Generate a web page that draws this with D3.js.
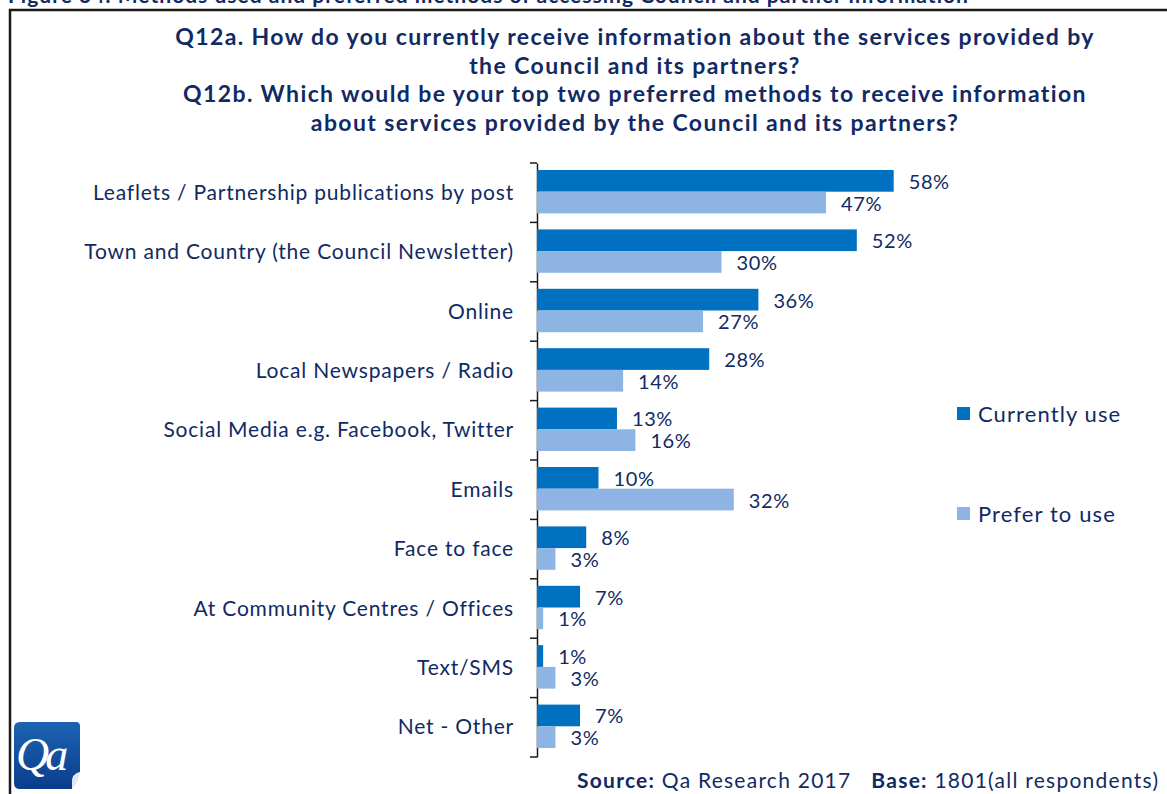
<!DOCTYPE html>
<html>
<head>
<meta charset="utf-8">
<script src="https://cdn.jsdelivr.net/npm/d3@7/dist/d3.min.js"></script>
<style>
  html, body { margin: 0; padding: 0; background: #fff; }
  svg { display: block; font-family: "Lato", "Open Sans", sans-serif; }
  .pre { white-space: pre; }
</style>
</head>
<body>
<svg id="chart" width="1167" height="794"></svg>
<script>
// Survey data: information channels, share of respondents (%)
const categories = [
  "Leaflets / Partnership publications by post",
  "Town and Country (the Council Newsletter)",
  "Online",
  "Local Newspapers / Radio",
  "Social Media e.g. Facebook, Twitter",
  "Emails",
  "Face to face",
  "At Community Centres / Offices",
  "Text/SMS",
  "Net - Other"
];
const currentlyUse = [58, 52, 36, 28, 13, 10, 8, 7, 1, 7];
const preferToUse  = [47, 30, 27, 14, 16, 32, 3, 1, 3, 3];
const seriesNames  = ["Currently use", "Prefer to use"];
const titleLines = [
  "Q12a. How do you currently receive information about the services provided by",
  "the Council and its partners?",
  "Q12b. Which would be your top two preferred methods to receive information",
  "about services provided by the Council and its partners?"
];

const navy = "#112a63";
const colors = ["#0070C0", "#8EB4E3"];

const svg = d3.select("#chart");

// Figure caption running off the top of the page
svg.append("clipPath").attr("id", "topclip")
  .append("rect").attr("x", 0).attr("y", 0).attr("width", 1167).attr("height", 9);
svg.append("text")
  .attr("clip-path", "url(#topclip)")
  .attr("x", 8).attr("y", 3)
  .attr("font-weight", "bold").attr("font-size", 21).attr("letter-spacing", 1)
  .attr("fill", navy)
  .text("Figure 34: Methods used and preferred methods of accessing Council and partner information");

// Frame (top and left edges)
svg.append("path")
  .attr("d", "M10,794 V10 H1167")
  .attr("fill", "none").attr("stroke", "#1a1a1a").attr("stroke-width", 2.5);

// Title
svg.append("g").selectAll("text").data(titleLines).join("text")
  .attr("x", 635)
  .attr("y", (d, i) => 45 + i * 28.5)
  .attr("text-anchor", "middle")
  .attr("font-weight", "bold").attr("font-size", 23).attr("letter-spacing", 1.4)
  .attr("fill", navy)
  .text(d => d);

// Scales
const x0 = 537;
const x = d3.scaleLinear().domain([0, 70]).range([0, 430.5]);
const y = d3.scaleBand().domain(categories).range([163, 757]).paddingInner(0).paddingOuter(0);
const inner = d3.scaleBand().domain([0, 1]).range([7, y.bandwidth() - 9]).padding(0);

const plot = svg.append("g").attr("transform", `translate(${x0},0)`);

// Category axis
const yAxis = d3.axisLeft(y).tickSize(0).tickFormat(() => "");
const axisG = plot.append("g").call(yAxis);
axisG.select(".domain").attr("stroke", "#1a1a1a").attr("stroke-width", 1.5);
// tick marks at band boundaries
const bounds = categories.map(c => y(c)).concat([y.range()[1]]);
axisG.selectAll("line.bound").data(bounds).join("line")
  .attr("class", "bound")
  .attr("x1", -7).attr("x2", 0)
  .attr("y1", d => d).attr("y2", d => d)
  .attr("stroke", "#1a1a1a").attr("stroke-width", 1.5);

// Category labels
plot.append("g").selectAll("text").data(categories).join("text")
  .attr("x", -23)
  .attr("y", d => y(d) + y.bandwidth() / 2 + 7)
  .attr("text-anchor", "end")
  .attr("font-size", 21).attr("letter-spacing", 0.8).attr("fill", navy)
  .text(d => d);

// Bars
const series = [currentlyUse, preferToUse];
series.forEach((vals, si) => {
  const g = plot.append("g");
  g.selectAll("rect").data(vals).join("rect")
    .attr("x", 0)
    .attr("y", (d, i) => y(categories[i]) + inner(si))
    .attr("width", d => x(d))
    .attr("height", inner.bandwidth())
    .attr("fill", colors[si]);
  g.selectAll("text").data(vals).join("text")
    .attr("x", d => x(d) + 15)
    .attr("y", (d, i) => y(categories[i]) + inner(si) + inner.bandwidth() / 2 + 8)
    .attr("font-size", 20).attr("letter-spacing", 0.6).attr("fill", navy)
    .text(d => d + "%");
});

// Legend
const legend = svg.append("g").selectAll("g").data(seriesNames).join("g")
  .attr("transform", (d, i) => `translate(957,${407 + i * 100})`);
legend.append("rect").attr("width", 13).attr("height", 13).attr("fill", (d, i) => colors[i]);
legend.append("text").attr("x", 21).attr("y", 15)
  .attr("font-size", 22).attr("letter-spacing", 1.1).attr("fill", navy).text(d => d);

// Logo
const logo = svg.append("g").attr("transform", "translate(14,722)");
const grad = svg.append("defs").append("linearGradient").attr("id", "qa")
  .attr("x1", 0).attr("y1", 0).attr("x2", 0).attr("y2", 1);
grad.append("stop").attr("offset", 0).attr("stop-color", "#1d63b3");
grad.append("stop").attr("offset", 1).attr("stop-color", "#0a3d8c");
logo.append("path")
  .attr("d", "M6,0 H62 Q66,0 66,4 V50 Q58,52 58,60 V67 H6 Q0,67 0,61 V6 Q0,0 6,0 Z")
  .attr("fill", "url(#qa)");
logo.append("path")
  .attr("d", "M66,50 Q58,52 58,60 V67 Q64,62 66,50 Z")
  .attr("fill", "#e8e8ee");
logo.append("text").attr("x", 2).attr("y", 48)
  .attr("font-family", "Liberation Serif, serif").attr("font-style", "italic")
  .attr("font-size", 46).attr("letter-spacing", -4)
  .attr("fill", "#fff").text("Qa");

// Source line
const src = svg.append("text").attr("class", "pre").attr("x", 577).attr("y", 788)
  .attr("font-size", 21).attr("letter-spacing", 1.25).attr("fill", navy);
src.append("tspan").attr("font-weight", "bold").text("Source:");
src.append("tspan").text(" Qa Research 2017   ");
src.append("tspan").attr("font-weight", "bold").text("Base:");
src.append("tspan").text(" 1801(all respondents)");
</script>
</body>
</html>
